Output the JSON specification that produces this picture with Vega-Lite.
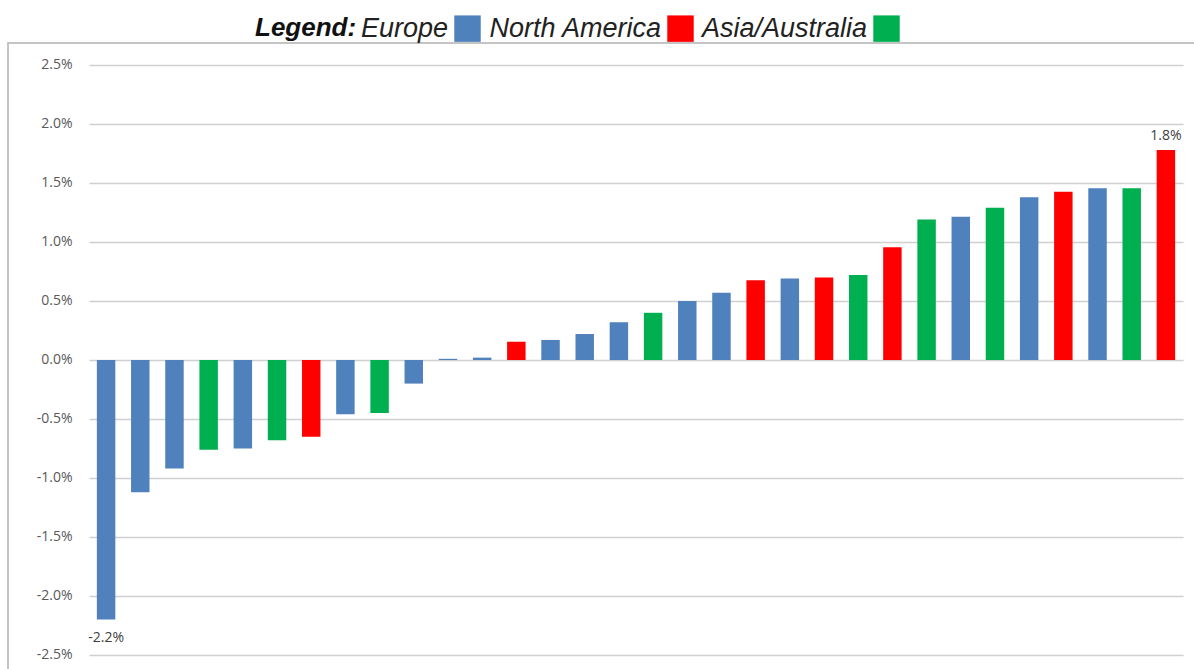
{
  "$schema": "https://vega.github.io/schema/vega-lite/v6.json",
  "width": 1190,
  "height": 628,
  "autosize": "none",
  "padding": {"left": 8, "top": 43, "right": 0, "bottom": 0},
  "background": "white",
  "config": {
    "view": {"stroke": "#c4c4c4", "strokeWidth": 2},
    "font": "Open Sans"
  },
  "data": {
    "values": [
      {"i": 1, "region": "Europe", "v": -2.2, "label": "-2.2%"},
      {"i": 2, "region": "Europe", "v": -1.12},
      {"i": 3, "region": "Europe", "v": -0.92},
      {"i": 4, "region": "Asia/Australia", "v": -0.76},
      {"i": 5, "region": "Europe", "v": -0.75},
      {"i": 6, "region": "Asia/Australia", "v": -0.68},
      {"i": 7, "region": "North America", "v": -0.65},
      {"i": 8, "region": "Europe", "v": -0.46},
      {"i": 9, "region": "Asia/Australia", "v": -0.45},
      {"i": 10, "region": "Europe", "v": -0.2},
      {"i": 11, "region": "Europe", "v": 0.01},
      {"i": 12, "region": "Europe", "v": 0.02},
      {"i": 13, "region": "North America", "v": 0.155},
      {"i": 14, "region": "Europe", "v": 0.17},
      {"i": 15, "region": "Europe", "v": 0.22},
      {"i": 16, "region": "Europe", "v": 0.32},
      {"i": 17, "region": "Asia/Australia", "v": 0.4},
      {"i": 18, "region": "Europe", "v": 0.5},
      {"i": 19, "region": "Europe", "v": 0.57},
      {"i": 20, "region": "North America", "v": 0.675},
      {"i": 21, "region": "Europe", "v": 0.69},
      {"i": 22, "region": "North America", "v": 0.7},
      {"i": 23, "region": "Asia/Australia", "v": 0.72},
      {"i": 24, "region": "North America", "v": 0.955},
      {"i": 25, "region": "Asia/Australia", "v": 1.19},
      {"i": 26, "region": "Europe", "v": 1.215},
      {"i": 27, "region": "Asia/Australia", "v": 1.29},
      {"i": 28, "region": "Europe", "v": 1.38},
      {"i": 29, "region": "North America", "v": 1.425},
      {"i": 30, "region": "Europe", "v": 1.455},
      {"i": 31, "region": "Asia/Australia", "v": 1.455},
      {"i": 32, "region": "North America", "v": 1.78, "label": "1.8%"}
    ]
  },
  "encoding": {
    "x": {
      "field": "i",
      "type": "ordinal",
      "axis": null,
      "scale": {"range": [81, 1175], "paddingInner": 0.46, "paddingOuter": 0.23}
    },
    "y": {
      "field": "v",
      "type": "quantitative",
      "scale": {"domain": [-2.6356, 2.6864], "nice": false, "zero": false},
      "axis": {
        "title": null,
        "values": [-2.5, -2, -1.5, -1, -0.5, 0, 0.5, 1, 1.5, 2, 2.5],
        "labelExpr": "(datum.value < 0 ? '-' : '') + format(abs(datum.value), '.1f') + '%'",
        "offset": -68,
        "labelPadding": 4,
        "domain": false,
        "ticks": false,
        "grid": true,
        "gridColor": "#d0d0d0",
        "gridWidth": 1.5,
        "labelFont": "Open Sans",
        "labelFontSize": 14,
        "labelColor": "#595959"
      }
    }
  },
  "layer": [
    {
      "mark": {"type": "bar"},
      "encoding": {
        "color": {
          "field": "region",
          "type": "nominal",
          "scale": {
            "domain": ["Europe", "North America", "Asia/Australia"],
            "range": ["#4f81bd", "#ff0000", "#00b050"]
          },
          "legend": {
            "orient": "none",
            "legendX": 247,
            "legendY": -28,
            "direction": "horizontal",
            "title": "Legend:",
            "titleOrient": "left",
            "titleFont": "Liberation Sans",
            "titleFontSize": 26,
            "titleFontWeight": "bold",
            "titleFontStyle": "italic",
            "titleColor": "#111111",
            "titlePadding": 97,
            "symbolType": "square",
            "symbolSize": 700,
            "symbolStrokeWidth": 0,
            "symbolOpacity": 1,
            "labelFont": "Liberation Sans",
            "labelFontSize": 27,
            "labelFontStyle": "italic",
            "labelColor": "#222222",
            "labelAlign": "right",
            "labelOffset": -33,
            "labelLimit": 400,
            "columnPadding": 7
          }
        }
      }
    },
    {
      "transform": [{"filter": "datum.label && datum.v < 0"}],
      "mark": {"type": "text", "baseline": "top", "dy": 11, "fontSize": 14, "color": "#404040", "font": "Open Sans"},
      "encoding": {"text": {"field": "label"}}
    },
    {
      "transform": [{"filter": "datum.label && datum.v > 0"}],
      "mark": {"type": "text", "baseline": "bottom", "dy": -7, "fontSize": 14, "color": "#404040", "font": "Open Sans"},
      "encoding": {"text": {"field": "label"}}
    }
  ]
}
